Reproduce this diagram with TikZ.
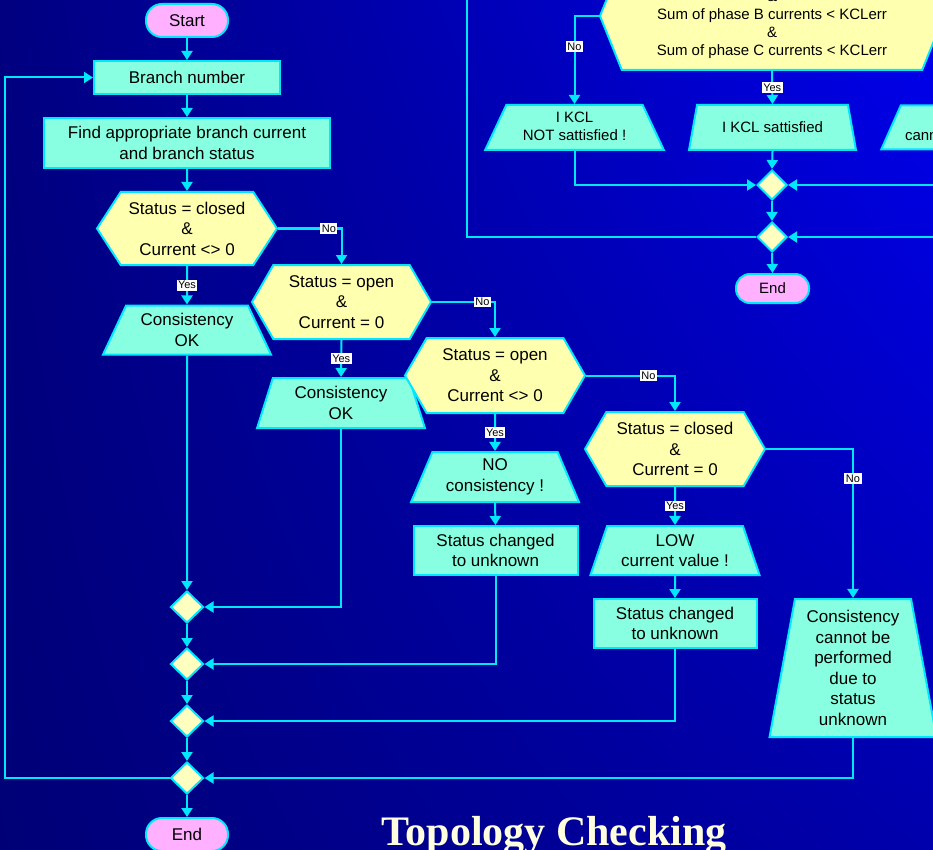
\documentclass[tikz,border=0pt]{standalone}
\usepackage{fontspec}
\setmainfont{Liberation Sans}
\newfontfamily\titlefont{Liberation Serif}
\usetikzlibrary{shapes.geometric,shapes.symbols,arrows.meta,shadings}
\definecolor{bgUL}{RGB}{0,0,128}
\definecolor{bgUR}{RGB}{0,0,238}
\definecolor{bgLL}{RGB}{0,0,118}
\definecolor{bgLR}{RGB}{0,0,172}
\definecolor{lineC}{RGB}{0,232,255}
\definecolor{aquaC}{RGB}{136,255,224}
\definecolor{yelC}{RGB}{255,255,176}
\definecolor{yelD}{RGB}{255,255,192}
\definecolor{pinkC}{RGB}{255,176,255}
\definecolor{titleC}{RGB}{255,255,224}
\begin{document}
\begin{tikzpicture}[x=1pt,y=-1pt,
  conn/.style={draw=lineC, line width=2pt, -{Triangle[length=9pt,width=11pt]}},
  plain/.style={draw=lineC, line width=2pt},
  base/.style={draw=lineC, line width=2pt, text=black, align=center, inner sep=0pt, font=\fontsize{17}{20.5}\selectfont},
  pill/.style={base, fill=pinkC, rounded corners=16pt, minimum width=82pt, minimum height=33pt},
  proc/.style={base, fill=aquaC, rectangle},
  hexa/.style={base, fill=yelC, signal, signal to=east and west, signal pointer angle=#1},
  hexa/.default=116,
  trap/.style={base, fill=aquaC, trapezium, trapezium stretches=true, trapezium left angle=#1, trapezium right angle=#1},
  trap/.default=65,
  merge/.style={draw=lineC, line width=2pt, fill=yelD, diamond, aspect=1, inner sep=0pt, minimum width=33pt, minimum height=32pt},
  small/.style={font=\fontsize{15}{18}\selectfont},
  lbl/.style={fill=white, text=black, inner sep=1.5pt, font=\fontsize{11}{12}\selectfont}
]
\clip (0,0) rectangle (933,850);
\shade[upper left=bgUL, upper right=bgUR, lower left=bgLL, lower right=bgLR] (0,0) rectangle (933,850);

% left flowchart
\node[pill] (start) at (187,20.5) {Start};
\node[proc, minimum width=186pt, minimum height=33pt] (bn) at (187,77.5) {Branch number};
\node[proc, minimum width=286pt, minimum height=50pt] (find) at (187,143) {Find appropriate branch current\\and branch status};
\node[hexa=114, minimum width=180pt, minimum height=73pt] (h1) at (187,228.5) {Status = closed\\\&\\Current <> 0};
\node[trap=62, minimum width=168pt, minimum height=49pt] (ok1) at (187,330) {Consistency\\OK};
\node[hexa=120, minimum width=179pt, minimum height=74pt] (h2) at (341.5,302) {Status = open\\\&\\Current = 0};
\node[trap=72, minimum width=168pt, minimum height=50pt] (ok2) at (341,403) {Consistency\\OK};
\node[hexa=120, minimum width=180pt, minimum height=75pt] (h3) at (495,375.5) {Status = open\\\&\\Current <> 0};
\node[trap=65, minimum width=168pt, minimum height=50pt] (noc) at (495,477) {NO\\consistency !};
\node[proc, minimum width=164pt, minimum height=49pt] (sc1) at (495.5,550.5) {Status changed\\to unknown};
\node[hexa=120, minimum width=180pt, minimum height=74pt] (h4) at (675,449) {Status = closed\\\&\\Current = 0};
\node[trap=68, minimum width=169pt, minimum height=49pt] (low) at (675,550.5) {LOW\\current value !};
\node[proc, minimum width=163pt, minimum height=49pt] (sc2) at (675,623.5) {Status changed\\to unknown};
\node[trap=80, minimum width=167pt, minimum height=138pt] (cnb) at (853,668) {Consistency\\cannot be\\performed\\due to\\status\\unknown};
\node[merge] (m1) at (187,607) {};
\node[merge] (m2) at (187,664) {};
\node[merge] (m3) at (187,721) {};
\node[merge] (m4) at (187,778) {};
\node[pill] (end) at (187,834.5) {End};
\node[text=titleC, font=\titlefont\bfseries\fontsize{42}{44}\selectfont, anchor=base, inner sep=0pt] (title) at (554,845) {Topology Checking};

% top right flowchart
\node[hexa=136, small, minimum width=344pt, minimum height=108pt] (hk) at (772,16) {\strut\\\strut\&\\\strut Sum of phase B currents < KCLerr\\\strut\&\\\strut Sum of phase C currents < KCLerr};
\node[trap=66, small, minimum width=179pt, minimum height=45pt] (kn) at (574.5,127.5) {\strut I KCL\\\strut NOT sattisfied !};
\node[trap=64, small, minimum width=167pt, minimum height=45pt] (ks) at (772.5,127.5) {I KCL sattisfied};
\node[trap=63, small, minimum width=174pt, minimum height=44pt] (tr3) at (968,127.5) {\strut\\\strut cannot be checked};
\node[merge, minimum width=30pt, minimum height=30pt] (mA) at (772,185) {};
\node[merge, minimum width=30pt, minimum height=30pt] (mB) at (772,237) {};
\node[pill, small, minimum width=73pt, minimum height=29pt, rounded corners=14pt] (endR) at (772.5,288.5) {End};
\coordinate (lx) at (5,778);
\coordinate (rin) at (945,237);
\coordinate (ltop) at (467,-5);

% connectors left
\draw[conn] (start) -- (bn);
\draw[conn] (bn) -- (find);
\draw[conn] (find) -- (h1);
\draw[conn] (h1.east) -| node[lbl,pos=0.4]{No} (h2.north);
\draw[conn] (h1.south) -- node[lbl]{Yes} (ok1.north);
\draw[conn] (h2.east) -| node[lbl,pos=0.4]{No} (h3.north);
\draw[conn] (h2.south) -- node[lbl]{Yes} (ok2.north);
\draw[conn] (h3.east) -| node[lbl,pos=0.35]{No} (h4.north);
\draw[conn] (h3.south) -- node[lbl]{Yes} (noc.north);
\draw[conn] (noc.south) -- (sc1.north);
\draw[conn] (h4.east) -| node[lbl,pos=0.6]{No} (cnb.north);
\draw[conn] (h4.south) -- node[lbl]{Yes} (low.north);
\draw[conn] (low.south) -- (sc2.north);
\draw[conn] (ok1.south) -- (m1.north);
\draw[conn] (ok2.south) |- (m1.east);
\draw[conn] (m1.south) -- (m2.north);
\draw[conn] (sc1.south) |- (m2.east);
\draw[conn] (m2.south) -- (m3.north);
\draw[conn] (sc2.south) |- (m3.east);
\draw[conn] (m3.south) -- (m4.north);
\draw[conn] (cnb.south) |- (m4.east);
\draw[conn] (m4.south) -- (end.north);
\draw[conn] (m4.west) -- (lx) |- (bn.west);

% connectors top right
\draw[conn] (hk.west) -| node[lbl,pos=0.675]{No} (kn.north);
\draw[conn] (hk.south) -- node[lbl]{Yes} (ks.north);
\draw[conn] (kn.south) |- (mA.west);
\draw[conn] (ks.south) -- (mA.north);
\draw[conn] (tr3.south) |- (mA.east);
\draw[conn] (mA.south) -- (mB.north);
\draw[conn] (rin) -- (mB.east);
\draw[plain] (mB.west) -| (ltop);
\draw[conn] (mB.south) -- (endR.north);
\end{tikzpicture}
\end{document}
